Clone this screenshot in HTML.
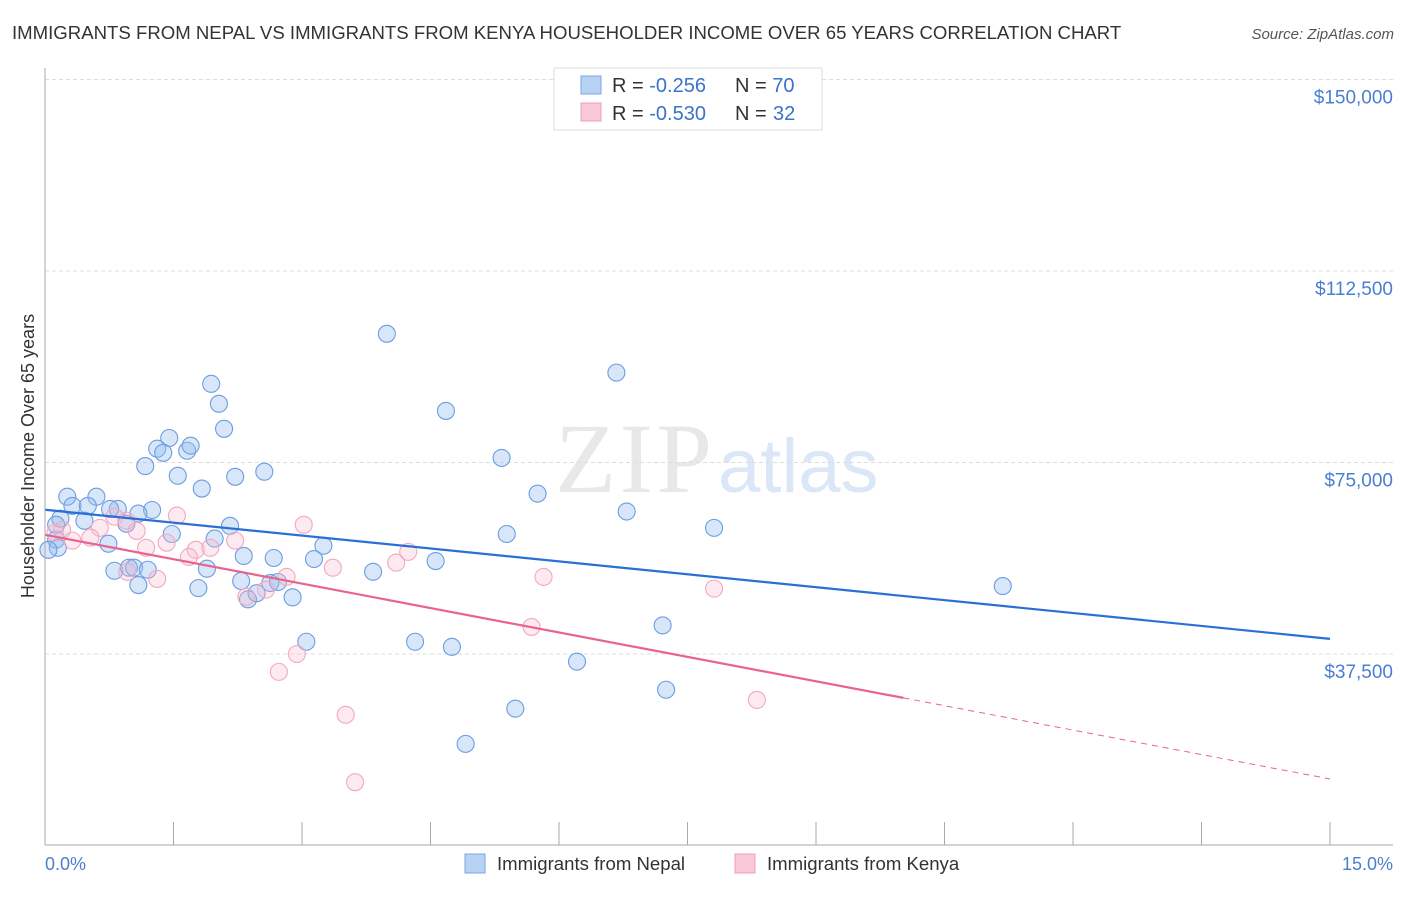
<!DOCTYPE html>
<html><head><meta charset="utf-8"><style>
body{margin:0;background:#fff;font-family:"Liberation Sans",sans-serif}
#c{position:relative;width:1406px;height:892px}
</style></head><body>
<div id="c">
<svg id="s" width="1406" height="892" xmlns="http://www.w3.org/2000/svg">
<text x="12" y="39" font-size="18.6" fill="#333">IMMIGRANTS FROM NEPAL VS IMMIGRANTS FROM KENYA HOUSEHOLDER INCOME OVER 65 YEARS CORRELATION CHART</text>
<text x="1394" y="39" font-size="15" fill="#555" font-style="italic" text-anchor="end">Source: ZipAtlas.com</text>
<text x="712" y="492" font-size="100" fill="#e8e8e8" text-anchor="end" font-family="Liberation Serif" textLength="157">ZIP</text>
<text x="718" y="492" font-size="76" fill="#dbe7f6">atlas</text>
<text transform="translate(34,456) rotate(-90)" font-size="18" fill="#333" text-anchor="middle">Householder Income Over 65 years</text>
<g id="grid"></g><g id="pts"></g><g id="lines"></g>
<line x1="45" y1="68" x2="45" y2="845" stroke="#aaa"/>
<line x1="45" y1="845" x2="1393" y2="845" stroke="#aaa"/>
<text x="45" y="870" font-size="18" fill="#4a7fd0">0.0%</text>
<text x="1393" y="870" font-size="18" fill="#4a7fd0" text-anchor="end">15.0%</text>
<g>
<rect x="554" y="68" width="268" height="62" fill="#fff" stroke="#ddd"/>
<rect x="581" y="76" width="20" height="18" fill="#b8d2f4" stroke="#7aa6e0"/>
<rect x="581" y="103" width="20" height="18" fill="#f9c8d6" stroke="#f0a0bb"/>
<text x="612" y="92" font-size="20" fill="#333">R = <tspan fill="#3a72cc">-0.256</tspan></text>
<text x="735" y="92" font-size="20" fill="#333">N = <tspan fill="#3a72cc">70</tspan></text>
<text x="612" y="120" font-size="20" fill="#333">R = <tspan fill="#3a72cc">-0.530</tspan></text>
<text x="735" y="120" font-size="20" fill="#333">N = <tspan x="773" fill="#3a72cc">32</tspan></text>
</g>
<g>
<rect x="465" y="854" width="20" height="19" fill="#b8d2f4" stroke="#7aa6e0"/>
<text x="497" y="870" font-size="18.6" fill="#333">Immigrants from Nepal</text>
<rect x="735" y="854" width="20" height="19" fill="#f9c8d6" stroke="#f0a0bb"/>
<text x="767" y="870" font-size="18.6" fill="#333">Immigrants from Kenya</text>
</g>
</svg></div>
<script>
const yTicks=[37500,75000,112500,150000];
const yTickLabels=["$37,500","$75,000","$112,500","$150,000"];
const xTicks=[0,1.5,3,4.5,6,7.5,9,10.5,12,13.5,15];
const nepalX=[3.99,1.94,2.03,2.09,6.67,4.68,1.45,1.31,1.38,1.66,1.70,1.17,1.55,2.22,2.56,5.33,1.83,5.75,0.26,0.60,0.32,0.50,0.85,0.76,1.25,6.79,0.18,0.95,2.16,7.81,5.39,1.48,1.98,3.25,0.74,0.13,0.15,0.04,2.32,2.67,3.14,4.56,1.89,0.81,0.98,1.04,1.20,3.83,2.29,2.63,2.72,1.09,1.79,11.18,2.89,2.37,2.47,7.21,3.05,4.32,4.75,6.21,7.25,5.49,4.91,0.13,0.46,1.09];
const nepalY=[100.2,90.4,86.5,81.6,92.6,85.1,79.8,77.7,76.9,77.3,78.3,74.3,72.4,72.2,73.2,75.9,69.9,68.9,68.3,68.3,66.5,66.5,65.9,65.9,65.7,65.4,64.0,63.0,62.6,62.2,61.0,61.0,60.1,58.7,59.1,59.9,58.3,57.9,56.7,56.3,56.1,55.7,54.2,53.8,54.4,54.4,54.0,53.6,51.8,51.4,51.6,51.0,50.4,50.8,48.6,48.2,49.4,43.1,39.9,39.9,38.9,36.0,30.5,26.8,19.9,62.8,63.6,65.0];
const kenyaX=[0.12,0.20,0.64,0.81,0.95,1.07,1.54,1.18,1.42,1.76,1.68,1.93,2.22,3.02,1.31,0.96,2.35,2.58,2.82,3.36,4.10,4.24,5.82,5.68,7.81,2.94,2.73,3.51,3.62,8.31,0.32,0.53];
const kenyaY=[61.2,61.8,62.2,64.4,63.6,61.6,64.6,58.3,59.3,57.9,56.5,58.3,59.7,62.8,52.2,53.6,48.7,50.1,52.6,54.4,55.4,57.5,52.6,42.8,50.3,37.5,34.0,25.6,12.4,28.5,59.7,60.3];
const nepalTrend=[65.745,40.467];
const kenyaTrend=[60.847,13.032];
const kenyaSolidEnd=10.02;
const NS='http://www.w3.org/2000/svg';
const sx=p=>45+p/15*1285;
const sy=v=>845.5-v*766/150000;
function mk(t,a,par){const e=document.createElementNS(NS,t);for(const k in a)e.setAttribute(k,a[k]);document.getElementById(par).appendChild(e);return e;}
yTicks.forEach((t,i)=>{
 const l=mk('line',{x1:45,x2:1393,y1:sy(t),y2:sy(t),stroke:'#ddd','stroke-dasharray':'4,3'},'grid');
 
 
 const tx=mk('text',{x:1393,y:sy(t)+24,'font-size':19,fill:'#4a7fd0','text-anchor':'end'},'grid');
 tx.textContent=yTickLabels[i];
 
 
});
xTicks.forEach(t=>{
 const l=mk('line',{x1:sx(t),x2:sx(t),y1:822,y2:845,stroke:'#aaa'},'grid');
 
 
});
nepalX.forEach((p,i)=>{
 const c=mk('circle',{cx:sx(p),cy:sy(nepalY[i]*1000),r:8.5,fill:'rgba(150,190,240,0.38)',stroke:'#6b9de0','stroke-width':1.1},'pts');
 
 
});
kenyaX.forEach((p,i)=>{
 const c=mk('circle',{cx:sx(p),cy:sy(kenyaY[i]*1000),r:8.5,fill:'rgba(248,185,205,0.3)',stroke:'#f2a8c0','stroke-width':1.1},'pts');
 
 
});
const bl=mk('line',{x1:sx(0),y1:sy(nepalTrend[0]*1000),x2:sx(15),y2:sy(nepalTrend[1]*1000),stroke:'#2a6fd6','stroke-width':2.2},'lines');


const kv=p=>kenyaTrend[0]+(kenyaTrend[1]-kenyaTrend[0])*p/15;
const pl=mk('line',{x1:sx(0),y1:sy(kenyaTrend[0]*1000),x2:sx(kenyaSolidEnd),y2:sy(kv(kenyaSolidEnd)*1000),stroke:'#e8638f','stroke-width':2.2},'lines');


const pd=mk('line',{x1:sx(kenyaSolidEnd),y1:sy(kv(kenyaSolidEnd)*1000),x2:sx(15),y2:sy(kenyaTrend[1]*1000),stroke:'#e8638f','stroke-width':1,'stroke-dasharray':'6,5'},'lines');


</script>
</body></html>
